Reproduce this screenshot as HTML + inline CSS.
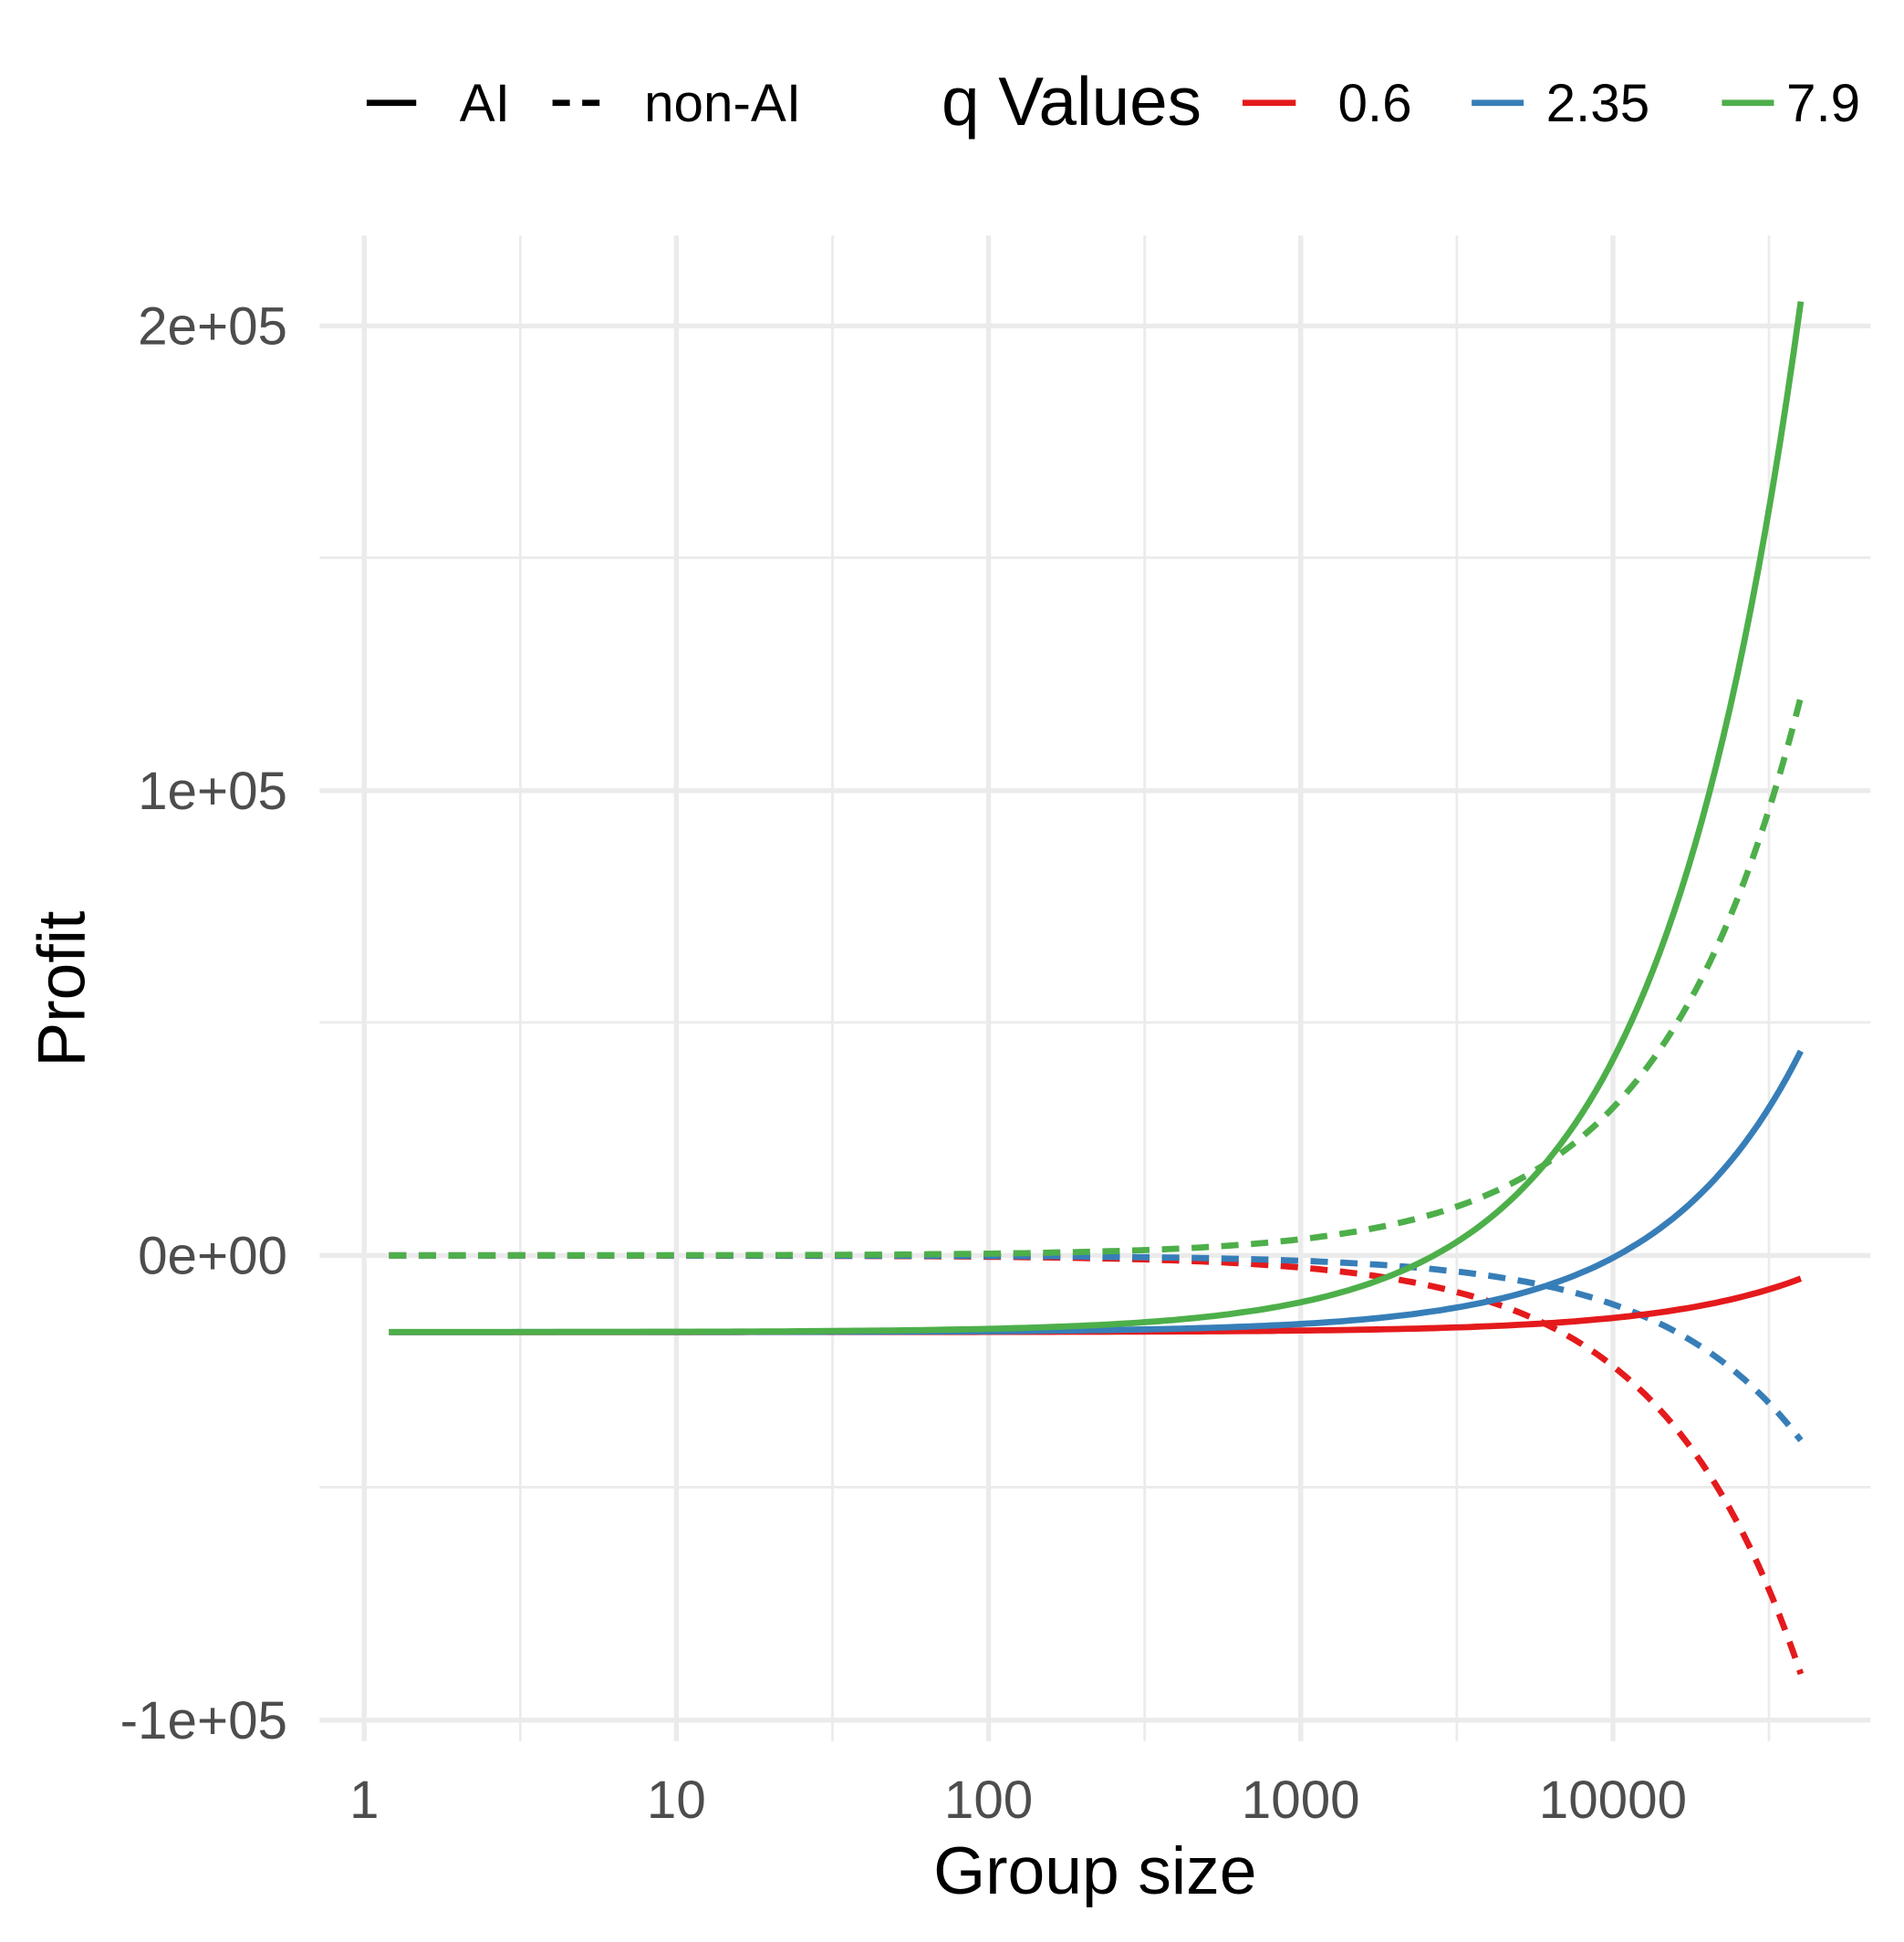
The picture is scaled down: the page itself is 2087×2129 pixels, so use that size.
<!DOCTYPE html>
<html><head><style>html,body{margin:0;padding:0;background:#fff}svg{display:block}</style></head>
<body>
<svg id="s" width="2087" height="2129" viewBox="0 0 1537 1567" preserveAspectRatio="none" xmlns="http://www.w3.org/2000/svg" font-family="Liberation Sans, sans-serif">
<rect width="1537" height="1567" fill="#fff"/>
<g stroke="#ebebeb" stroke-width="2">
<line x1="258" x2="1510" y1="450" y2="450"/><line x1="258" x2="1510" y1="825" y2="825"/><line x1="258" x2="1510" y1="1200" y2="1200"/>
<line x1="420" x2="420" y1="190" y2="1405"/><line x1="672" x2="672" y1="190" y2="1405"/><line x1="924" x2="924" y1="190" y2="1405"/><line x1="1176" x2="1176" y1="190" y2="1405"/><line x1="1428" x2="1428" y1="190" y2="1405"/>
</g>
<g stroke="#ebebeb" stroke-width="4">
<line x1="258" x2="1510" y1="263" y2="263"/><line x1="258" x2="1510" y1="638" y2="638"/><line x1="258" x2="1510" y1="1013" y2="1013"/><line x1="258" x2="1510" y1="1388" y2="1388"/>
<line x1="294" x2="294" y1="190" y2="1405"/><line x1="546" x2="546" y1="190" y2="1405"/><line x1="798" x2="798" y1="190" y2="1405"/><line x1="1050" x2="1050" y1="190" y2="1405"/><line x1="1302" x2="1302" y1="190" y2="1405"/>
</g>
<g id="curves" fill="none" stroke-width="5"></g>
<g fill="#4d4d4d" font-size="43" text-anchor="end">
<text x="232" y="278">2e+05</text><text x="232" y="653">1e+05</text><text x="232" y="1028">0e+00</text><text x="232" y="1403">-1e+05</text>
</g>
<g fill="#4d4d4d" font-size="43" text-anchor="middle">
<text x="294" y="1467">1</text><text x="546" y="1467">10</text><text x="798" y="1467">100</text><text x="1050" y="1467">1000</text><text x="1302" y="1467">10000</text>
</g>
<text x="884" y="1528" font-size="54" text-anchor="middle" fill="#000">Group size</text>
<text transform="translate(68,798) rotate(-90)" font-size="54" text-anchor="middle" fill="#000">Profit</text>
<g stroke-width="5">
<line x1="296" x2="336" y1="83" y2="83" stroke="#000"/>
<line x1="446" x2="486" y1="83" y2="83" stroke="#000" stroke-dasharray="14,10"/>
<line x1="1003" x2="1046" y1="83" y2="83" stroke="#e41a1c"/>
<line x1="1188" x2="1230" y1="83" y2="83" stroke="#377eb8"/>
<line x1="1390" x2="1432" y1="83" y2="83" stroke="#4daf4a"/>
</g>
<g font-size="43" fill="#000">
<text x="371" y="98">AI</text><text x="520" y="98">non-AI</text>
<text x="1080" y="98">0.6</text><text x="1248" y="98">2.35</text><text x="1442" y="98">7.9</text>
</g>
<text x="760" y="101" font-size="55" fill="#000">q Values</text>
</svg>
<script>
var g=document.getElementById('curves');
function X(n){return 294+252*Math.log10(n);}
function Y(v){return 1013-v/1e5*375;}
var P=0.96;
var series=[
 ['#e41a1c',-3.44,0],['#377eb8',-1.52,0],['#4daf4a',4.59,0],
 ['#e41a1c',0.44,1],['#377eb8',2.31,1],['#4daf4a',8.47,1]];
series.forEach(function(s){
 var d='';
 for(var i=0;i<=200;i++){
  var lx=Math.log10(1.2)+(Math.log10(40000)-Math.log10(1.2))*i/200;
  var n=Math.pow(10,lx);
  var t=s[1]*Math.pow(n,P);
  var v=s[2]?(-16500+t):t;
  d+=(i?'L':'M')+X(n).toFixed(1)+','+Y(v).toFixed(1);
 }
 var p=document.createElementNS('http://www.w3.org/2000/svg','path');
 p.setAttribute('d',d);p.setAttribute('stroke',s[0]);
 if(!s[2])p.setAttribute('stroke-dasharray','14,10');
 g.appendChild(p);
});
</script>
</body></html>
